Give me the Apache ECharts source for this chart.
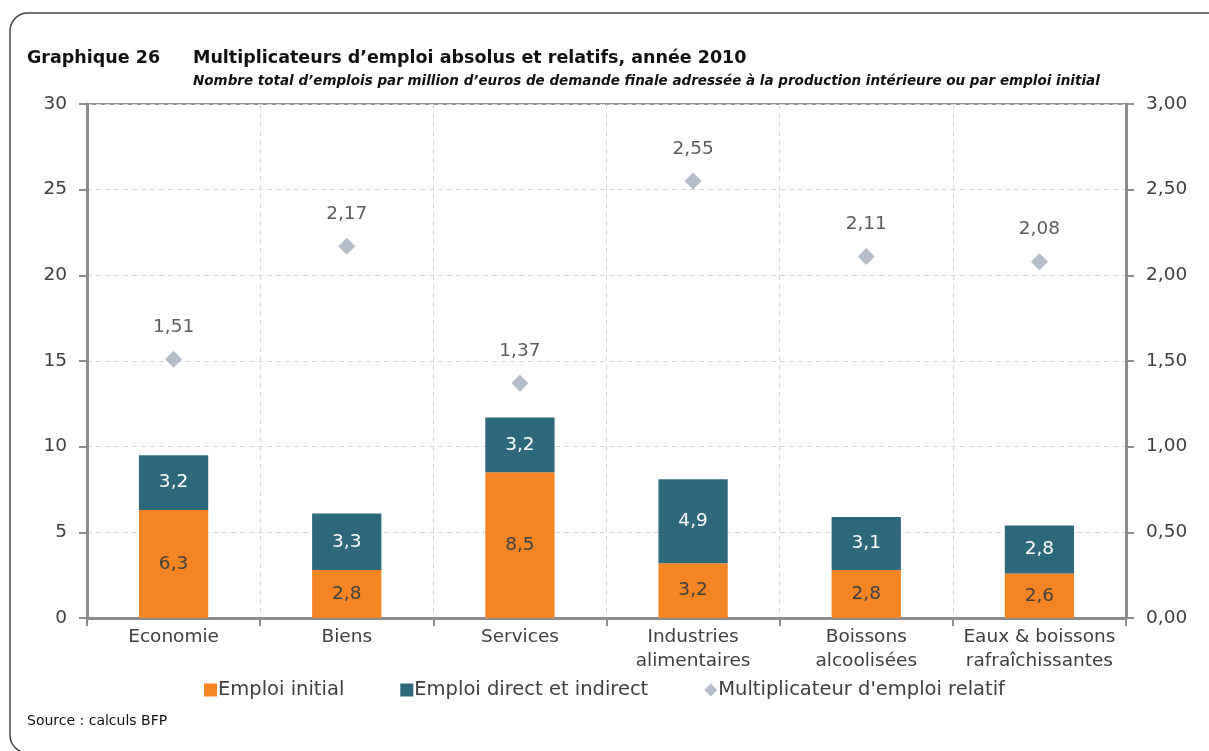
<!DOCTYPE html>
<html>
<head>
<meta charset="utf-8">
<script src="https://cdn.jsdelivr.net/npm/echarts@6/dist/echarts.min.js"></script>
<style>
    html, body { margin: 0; padding: 0; background: #fff; }
    #chart { width: 1209px; height: 751px; }
</style>
</head>
<body>
<div id="chart"></div>
<script>
var categories = ['Economie', 'Biens', 'Services', 'Industries\nalimentaires', 'Boissons\nalcoolisées', 'Eaux & boissons\nrafraîchissantes'];
var emploiInitial = [6.3, 2.8, 8.5, 3.2, 2.8, 2.6];
var emploiDirect = [3.2, 3.3, 3.2, 4.9, 3.1, 2.8];
var multiplicateur = [1.51, 2.17, 1.37, 2.55, 2.11, 2.08];

var FONT = '"DejaVu Sans"';
var TXT = '#404040';
var FS = 18.5;

function comma(v, d) {
    return v.toFixed(d).replace('.', ',');
}

var chart = echarts.init(document.getElementById('chart'));
chart.setOption({
    animation: false,
    textStyle: { fontFamily: FONT },
    graphic: [{
        type: 'rect',
        shape: { x: 10, y: 13, width: 1260, height: 740, r: 18 },
        style: { fill: 'none', stroke: '#444', lineWidth: 1.5 },
        silent: true
    }],
    title: [{
        text: 'Graphique 26',
        left: 22, top: 44,
        textStyle: { fontSize: 17.5, fontWeight: 'bold', color: '#111', fontFamily: FONT }
    }, {
        text: 'Multiplicateurs d\u2019emploi absolus et relatifs, année 2010',
        left: 188, top: 44,
        textStyle: { fontSize: 17.5, fontWeight: 'bold', color: '#111', fontFamily: FONT }
    }, {
        text: 'Nombre total d\u2019emplois par million d\u2019euros de demande finale adressée à la production intérieure ou par emploi initial',
        left: 188, top: 69,
        textStyle: { fontSize: 13.5, fontWeight: 'bold', fontStyle: 'italic', color: '#111', fontFamily: FONT }
    }, {
        text: 'Source : calculs BFP',
        left: 22, top: 709,
        textStyle: { fontSize: 14, fontWeight: 'normal', color: '#111', fontFamily: FONT }
    }],
    legend: {
        left: 'center',
        top: 675,
        itemWidth: 13,
        itemHeight: 13,
        itemGap: 56,
        textStyle: { fontSize: 19.5, color: TXT, padding: [0, 0, 0, -4] },
        data: [
            { name: 'Emploi initial', icon: 'rect', itemStyle: { color: '#f58423' } },
            { name: 'Emploi direct et indirect', icon: 'rect', itemStyle: { color: '#2e687d' } },
            { name: 'Multiplicateur d\'emploi relatif', icon: 'diamond', itemStyle: { color: '#a2adba' } }
        ]
    },
    grid: {
        left: 87, right: 83, top: 104, bottom: 133,
        show: true,
        borderColor: '#8c8c8c',
        borderWidth: 2,
        backgroundColor: 'transparent'
    },
    xAxis: {
        type: 'category',
        data: categories,
        axisLine: { lineStyle: { color: '#8c8c8c', width: 3 } },
        axisTick: { show: true, length: 8, lineStyle: { color: '#8c8c8c', width: 2 } },
        axisLabel: { fontSize: FS, color: TXT, lineHeight: 24, margin: 7, interval: 0 },
        splitLine: { show: true, interval: 0, lineStyle: { color: '#d9d9d9', type: [5, 4] } }
    },
    yAxis: [{
        type: 'value',
        min: 0, max: 30, interval: 5,
        axisLine: { show: true, lineStyle: { color: '#8c8c8c', width: 3 } },
        axisTick: { show: true, length: 8, lineStyle: { color: '#8c8c8c', width: 2 } },
        axisLabel: { fontSize: FS, color: TXT, margin: 20 },
        splitLine: { show: true, lineStyle: { color: '#d9d9d9', type: [5, 4] } }
    }, {
        type: 'value',
        min: 0, max: 3, interval: 0.5,
        axisLine: { show: true, lineStyle: { color: '#8c8c8c', width: 3 } },
        axisTick: { show: true, length: 8, lineStyle: { color: '#8c8c8c', width: 2 } },
        axisLabel: { fontSize: FS, color: TXT, margin: 20, formatter: function (v) { return comma(v, 2); } },
        splitLine: { show: false }
    }],
    series: [{
        name: 'Emploi initial',
        type: 'bar',
        stack: 'total',
        barWidth: '40%',
        data: emploiInitial,
        itemStyle: { color: '#f58423' },
        label: {
            show: true, position: 'inside', fontSize: FS, color: TXT,
            formatter: function (p) { return comma(p.value, 1); }
        }
    }, {
        name: 'Emploi direct et indirect',
        type: 'bar',
        stack: 'total',
        data: emploiDirect,
        itemStyle: { color: '#2e687d' },
        label: {
            show: true, position: 'inside', fontSize: FS, color: '#fff',
            formatter: function (p) { return comma(p.value, 1); }
        }
    }, {
        name: 'Multiplicateur d\'emploi relatif',
        type: 'scatter',
        yAxisIndex: 1,
        symbol: 'diamond',
        symbolSize: 17,
        data: multiplicateur,
        itemStyle: { color: '#a2adba' },
        label: {
            show: true, position: 'top', distance: 14, fontSize: FS, color: '#333',
            formatter: function (p) { return comma(p.value, 2); }
        }
    }]
});
</script>
</body>
</html>
